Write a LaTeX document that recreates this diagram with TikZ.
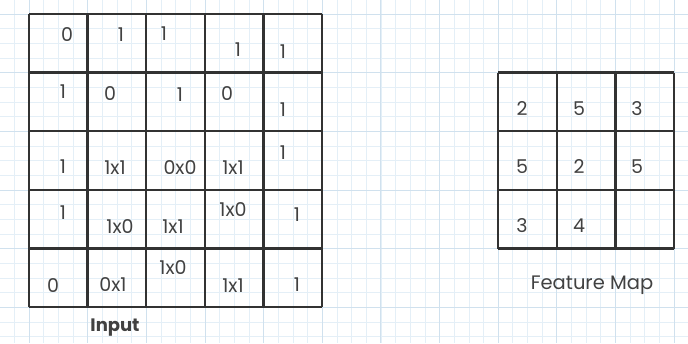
\documentclass[tikz,border=0pt]{standalone}
\usepackage{fontspec}
\setmainfont{Poppins}
\definecolor{minorgrid}{RGB}{228,239,247}
\definecolor{majorgrid}{RGB}{208,225,238}
\definecolor{ink}{RGB}{50,50,50}
\definecolor{txt}{RGB}{65,65,65}
\begin{document}
\begin{tikzpicture}[x=1pt,y=-1pt,
  val/.style={text=txt,font=\fontsize{19}{19}\selectfont,inner sep=0pt},
  lab/.style={text=txt,font=\fontsize{19.5}{19.5}\selectfont,inner sep=0pt},
  tab/.style={draw=ink,line width=2.4pt}]
\useasboundingbox (0,0) rectangle (688,343);
\fill[white] (0,0) rectangle (688,343);
% graph paper
\foreach \i in {-2,...,45}{
  \draw[minorgrid,line width=0.6pt] ({29+14.66*\i},0) -- ({29+14.66*\i},343);
}
\foreach \j in {-1,...,23}{
  \draw[minorgrid,line width=0.6pt] (0,{14+14.66*\j}) -- (688,{14+14.66*\j});
}
\foreach \i in {0,...,11}{
  \draw[majorgrid,line width=0.8pt] ({29+58.64*\i},0) -- ({29+58.64*\i},343);
}
\foreach \j in {0,...,5}{
  \draw[majorgrid,line width=0.8pt] (0,{14+58.64*\j}) -- (688,{14+58.64*\j});
}
% input table
\foreach \i in {0,...,5}{
  \draw[tab] ({29+58.64*\i},14) -- ({29+58.64*\i},307.2);
  \draw[tab] (29,{14+58.64*\i}) -- (322.2,{14+58.64*\i});
}
% feature map table
\foreach \i in {0,...,3}{
  \draw[tab] ({498.1+58.64*\i},72.6) -- ({498.1+58.64*\i},248.5);
  \draw[tab] (498.1,{72.6+58.64*\i}) -- (674,{72.6+58.64*\i});
}
% input values
\node[val] (a11) at (67,35) {0};
\node[val] (a12) at (121,35) {1};
\node[val] (a13) at (164,34) {1};
\node[val] (a14) at (238,50) {1};
\node[val] (a15) at (283,52) {1};
\node[val] (a21) at (63,92) {1};
\node[val] (a22) at (110,94) {0};
\node[val] (a23) at (180,95) {1};
\node[val] (a24) at (227,94) {0};
\node[val] (a25) at (283,110) {1};
\node[val] (a31) at (63,167) {1};
\node[val] (a32) at (115,168) {1x1};
\node[val] (a33) at (180,168) {0x0};
\node[val] (a34) at (233,168) {1x1};
\node[val] (a35) at (283,153) {1};
\node[val] (a41) at (63,213) {1};
\node[val] (a42) at (120,227) {1x0};
\node[val] (a43) at (173,227) {1x1};
\node[val] (a44) at (233,210) {1x0};
\node[val] (a45) at (297,215) {1};
\node[val] (a51) at (53,286) {0};
\node[val] (a52) at (113,285) {0x1};
\node[val] (a53) at (173,268) {1x0};
\node[val] (a54) at (233,286) {1x1};
\node[val] (a55) at (297,285) {1};
% feature map values
\node[val] (f11) at (522,109) {2};
\node[val] (f12) at (579,109) {5};
\node[val] (f13) at (637,109) {3};
\node[val] (f21) at (522,167) {5};
\node[val] (f22) at (579,167) {2};
\node[val] (f23) at (637,167) {5};
\node[val] (f31) at (522,226) {3};
\node[val] (f32) at (579,226) {4};
% labels
\node[lab,font=\fontsize{18}{18}\selectfont\bfseries] (inlab) at (115,328) {Input};
\node[lab] (fmlab) at (592,285) {Feature Map};
\end{tikzpicture}
\end{document}
